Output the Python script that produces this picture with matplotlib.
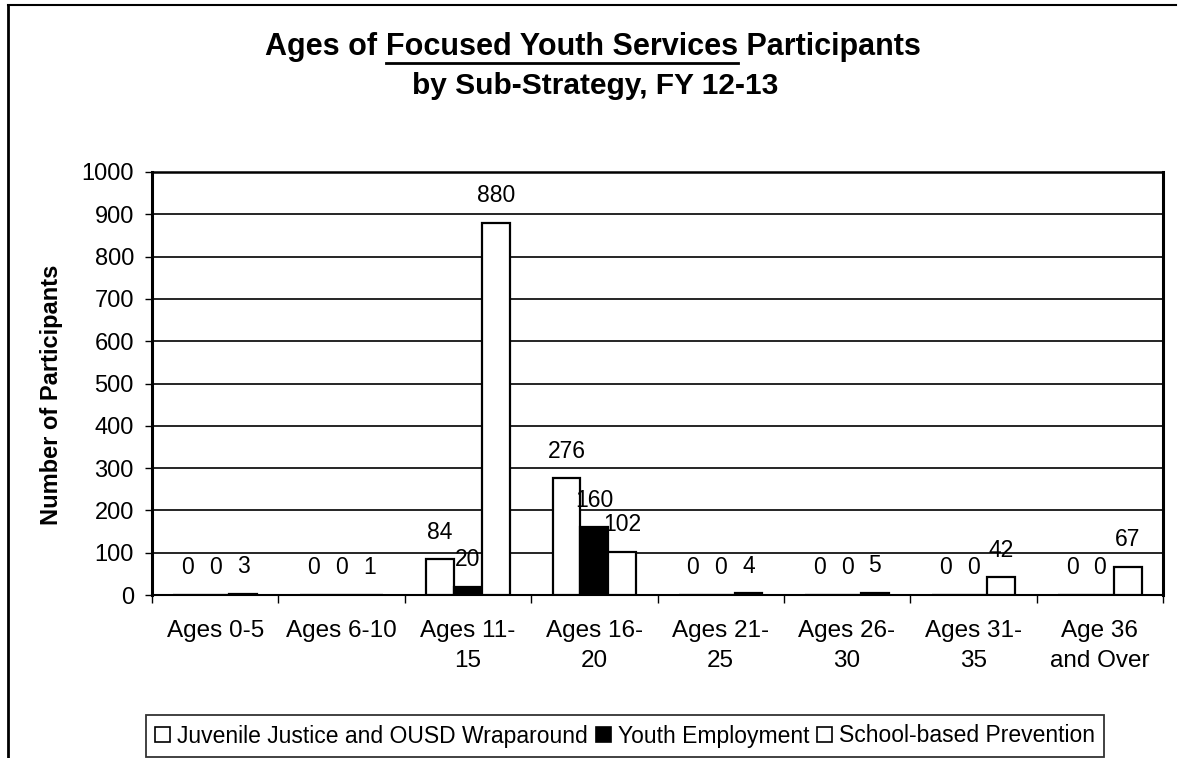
import numpy as np
import matplotlib
matplotlib.use("Agg")
import matplotlib.pyplot as plt
from matplotlib.patches import Patch
from matplotlib.lines import Line2D

plt.rcParams['font.family'] = ['Liberation Sans', 'DejaVu Sans']

# data
age_groups = ['Ages 0-5', 'Ages 6-10', 'Ages 11-\n15', 'Ages 16-\n20', 'Ages 21-\n25',
              'Ages 26-\n30', 'Ages 31-\n35', 'Age 36\nand Over']
series_names = ['Juvenile Justice and OUSD Wraparound', 'Youth Employment', 'School-based Prevention']
juvenile_justice = [0, 0, 84, 276, 0, 0, 0, 0]
youth_employment = [0, 0, 20, 160, 0, 0, 0, 0]
school_based = [3, 1, 880, 102, 4, 5, 42, 67]
y_ticks = [0, 100, 200, 300, 400, 500, 600, 700, 800, 900, 1000]

W, H = 1180, 758
fig = plt.figure(figsize=(W/100, H/100), dpi=100)
ax = fig.add_axes([152/W, 1-595/H, (1163-152)/W, (595-172)/H])

series = [juvenile_justice, youth_employment, school_based]
faces = ['white', 'black', 'white']
bw = 0.22
x = np.arange(len(age_groups))
for j, (vals, fc) in enumerate(zip(series, faces)):
    pos = x + (j-1)*bw
    ax.bar(pos, vals, width=bw, facecolor=fc, edgecolor='black', linewidth=1.6, zorder=3)
    for px, v in zip(pos, vals):
        ax.annotate(str(v), (px, v), xytext=(0, 27), textcoords='offset pixels',
                    ha='center', va='center', fontsize=16.5, zorder=5)

ax.set_xlim(-0.5, 7.5)
ax.set_ylim(0, 1000)
ax.set_yticks(y_ticks)
ax.tick_params(axis='y', labelsize=17, length=5, width=1, pad=8)
ax.set_xticks(x)
ax.set_xticklabels(age_groups, fontsize=17.5, linespacing=1.45)
ax.tick_params(axis='x', length=0, pad=18)
ax.set_xticks(np.arange(-0.5, 8, 1), minor=True)
ax.tick_params(axis='x', which='minor', length=6, width=1)
ax.yaxis.grid(True, color='black', linewidth=1.2, zorder=0)
ax.set_axisbelow(True)
for side in ['left', 'right']:
    ax.spines[side].set_linewidth(2.2)
ax.spines['top'].set_linewidth(1.8)
ax.spines['bottom'].set_linewidth(1.5)

fig.text(52/W, 1-395/H, 'Number of Participants', rotation=90, ha='center', va='center',
         fontsize=17, fontweight='bold')

# title with underlined middle part
fig.canvas.draw()
r = fig.canvas.get_renderer()
parts = ['Ages of ', 'Focused Youth Services', ' Participants']
tkw = dict(fontsize=22, fontweight='bold', va='center', ha='left')
widths = []
for p in parts:
    t = fig.text(0, 0, p, **tkw)
    widths.append(t.get_window_extent(r).width)
    t.remove()
x0 = 593 - sum(widths)/2
y1 = 1 - 47/H
for p, w in zip(parts, widths):
    fig.text(x0/W, y1, p, **tkw)
    if p.startswith('Focused'):
        fig.add_artist(Line2D([x0/W, (x0+w)/W], [1-63/H, 1-63/H], color='black', lw=2))
    x0 += w
fig.text(595/W, 1-86/H, 'by Sub-Strategy, FY 12-13', ha='center', va='center',
         fontsize=21.5, fontweight='bold')

handles = [Patch(facecolor=fc, edgecolor='black', linewidth=1.2) for fc in faces]
leg = fig.legend(handles, series_names, loc='center', bbox_to_anchor=(625/W, 1-736/H),
                 ncol=3, fontsize=16.5, frameon=True, fancybox=False, edgecolor='black',
                 handlelength=0.65, handleheight=0.65, handletextpad=0.3, columnspacing=0.35,
                 borderpad=0.4, borderaxespad=0)
leg.get_frame().set_linewidth(1.3)

# outer frame
fig.add_artist(Line2D([8/W, 8/W], [0, 1-5/H], color='black', lw=2))
fig.add_artist(Line2D([8/W, 1176/W], [1-5/H, 1-5/H], color='black', lw=1.5))

fig.savefig('out.png', dpi=100)
